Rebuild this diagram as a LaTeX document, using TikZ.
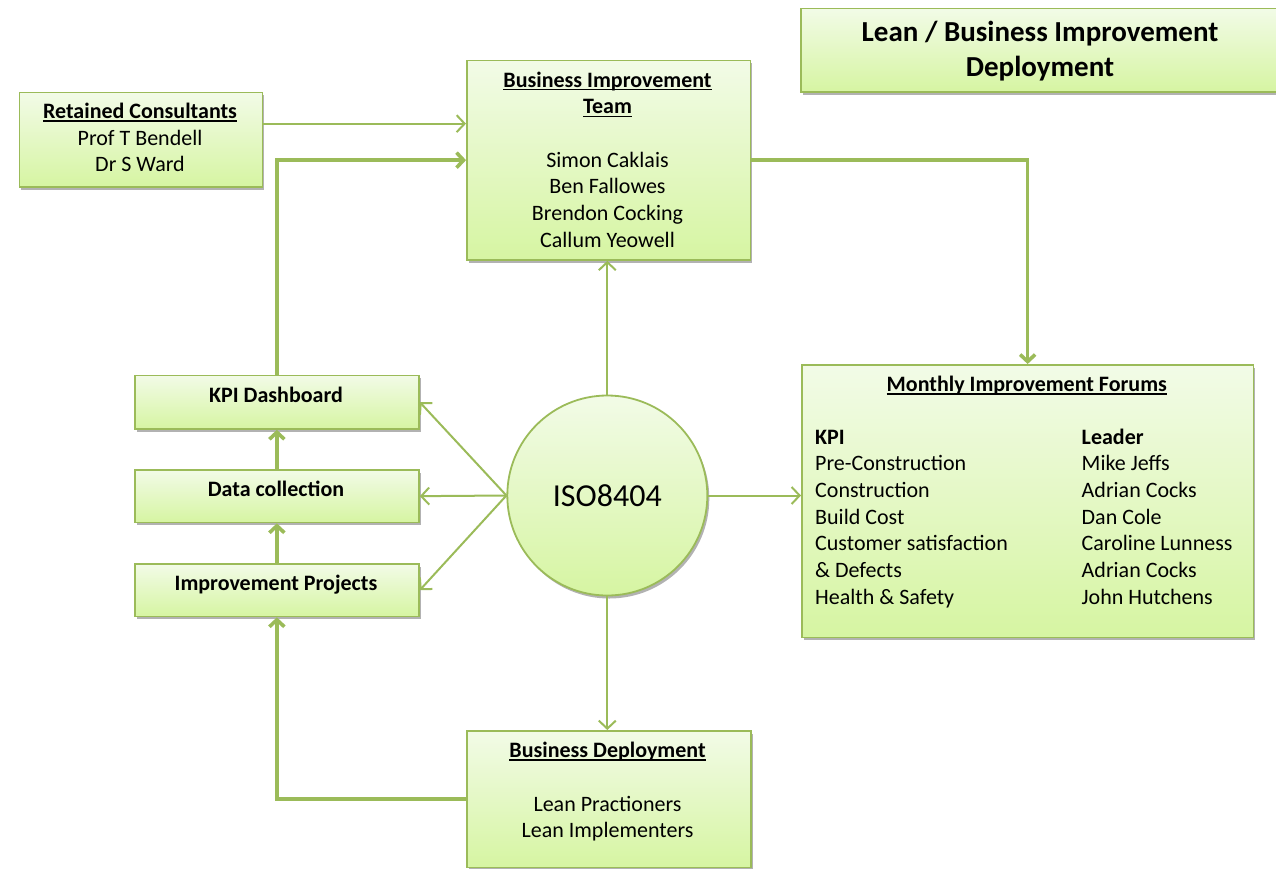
\documentclass[tikz,border=0pt]{standalone}
\usepackage{fontspec}
\setmainfont{Carlito}
\usetikzlibrary{arrows.meta,shadows}
\definecolor{bgreen}{RGB}{155,187,89}
\definecolor{ftop}{RGB}{242,251,231}
\definecolor{fbot}{RGB}{214,245,162}
\newcommand{\myul}[1]{\setbox0\hbox{#1}\leavevmode\rlap{\rule[-3.2pt]{\wd0}{1.5pt}}\box0}
\begin{document}
\begin{tikzpicture}[x=1pt,y=-1pt,
  shp/.style={draw=bgreen, line width=1.8pt, top color=ftop, bottom color=fbot, inner sep=0pt,
    drop shadow={shadow xshift=2pt, shadow yshift=-3pt, opacity=0.3, fill=black}},
  box/.style={shp, rectangle, anchor=north west},
  txt/.style={inner sep=0pt, anchor=base, align=center, font=\fontsize{22}{26.7}\selectfont},
  ltxt/.style={inner sep=0pt, anchor=base west, align=left, font=\fontsize{22}{26.7}\selectfont},
  ttl/.style={inner sep=0pt, anchor=base, align=center, font=\bfseries\fontsize{29}{35}\selectfont},
  thinarrow/.style={draw=bgreen, line width=2pt, -{Straight Barb[length=8pt,width=17pt]}},
  thickarrow/.style={draw=bgreen, line width=3.6pt, -{Straight Barb[length=7pt,width=15pt]}}
]
\useasboundingbox (0,0) rectangle (1276,868);

% boxes
\node[box, minimum width=482pt, minimum height=83.5pt] (title) at (800,7.5) {};
\node[box, minimum width=243pt, minimum height=94.5pt] (rc) at (18.5,91.5) {};
\node[box, minimum width=283.5pt, minimum height=199.5pt] (bit) at (466,59.5) {};
\node[box, minimum width=284pt, minimum height=53.5pt] (kpi) at (134,374.5) {};
\node[box, minimum width=284pt, minimum height=52.5pt] (dc) at (134,469) {};
\node[box, minimum width=284pt, minimum height=52.5pt] (ip) at (134,563) {};
\node[box, minimum width=451.5pt, minimum height=272.5pt] (mif) at (801,364) {};
\node[box, minimum width=284pt, minimum height=136.5pt] (bd) at (466,730) {};
\node[shp, circle, minimum size=200pt, font=\fontsize{32}{38}\selectfont] (iso) at (607.3,495.5) {ISO8404};

% texts (multi-line nodes anchored at the baseline of their last line)
\node[ttl] (title-t) at (1040,76.7) {Lean / Business Improvement\\Deployment};
\node[txt] (rc-t) at (140,171.7) {\textbf{\myul{Retained Consultants}}\\Prof T Bendell\\Dr S Ward};
\node[txt] (bit-t) at (607.5,247.3) {\textbf{\myul{Business Improvement}}\\\textbf{\myul{Team}}\\[26.7pt]Simon Caklais\\Ben Fallowes\\Brendon Cocking\\Callum Yeowell};
\node[txt] (kpi-t) at (276,402) {\textbf{KPI Dashboard}};
\node[txt] (dc-t) at (276,496.5) {\textbf{Data collection}};
\node[txt] (ip-t) at (276,590.5) {\textbf{Improvement Projects}};
\node[txt] (mif-t) at (1026.8,391.7) {\textbf{\myul{Monthly Improvement Forums}}};
\node[ltxt] (mif-k) at (815,604.3) {\textbf{KPI}\\Pre-Construction\\Construction\\Build Cost\\Customer satisfaction\\\& Defects\\Health \& Safety};
\node[ltxt] (mif-l) at (1081.5,604.3) {\textbf{Leader}\\Mike Jeffs\\Adrian Cocks\\Dan Cole\\Caroline Lunness\\Adrian Cocks\\John Hutchens};
\node[txt] (bd-t) at (607.5,837.7) {\textbf{\myul{Business Deployment}}\\[26.7pt]Lean Practioners\\Lean Implementers};

% connectors
\coordinate (rcA) at ([yshift=16pt]rc.east);
\draw[thinarrow] (rcA) -- (rcA -| bit.west);
\draw[thickarrow] (kpi.north) |- (bit.west);
\draw[thickarrow] (bit.east) -| (mif.north);
\draw[thinarrow] (iso.north) -- (iso.north |- bit.south);
\draw[thinarrow] (iso.south) -- (iso.south |- bd.north);
\draw[thinarrow] (iso.east) -- (iso.east -| mif.west);
\draw[thinarrow] (iso.west) -- (kpi.east);
\draw[thinarrow] (iso.west) -- (dc.east);
\draw[thinarrow] (iso.west) -- (ip.east);
\draw[thickarrow] (dc.north) -- (kpi.south);
\draw[thickarrow] (ip.north) -- (dc.south);
\draw[thickarrow] (bd.west) -| (ip.south);
\end{tikzpicture}
\end{document}
